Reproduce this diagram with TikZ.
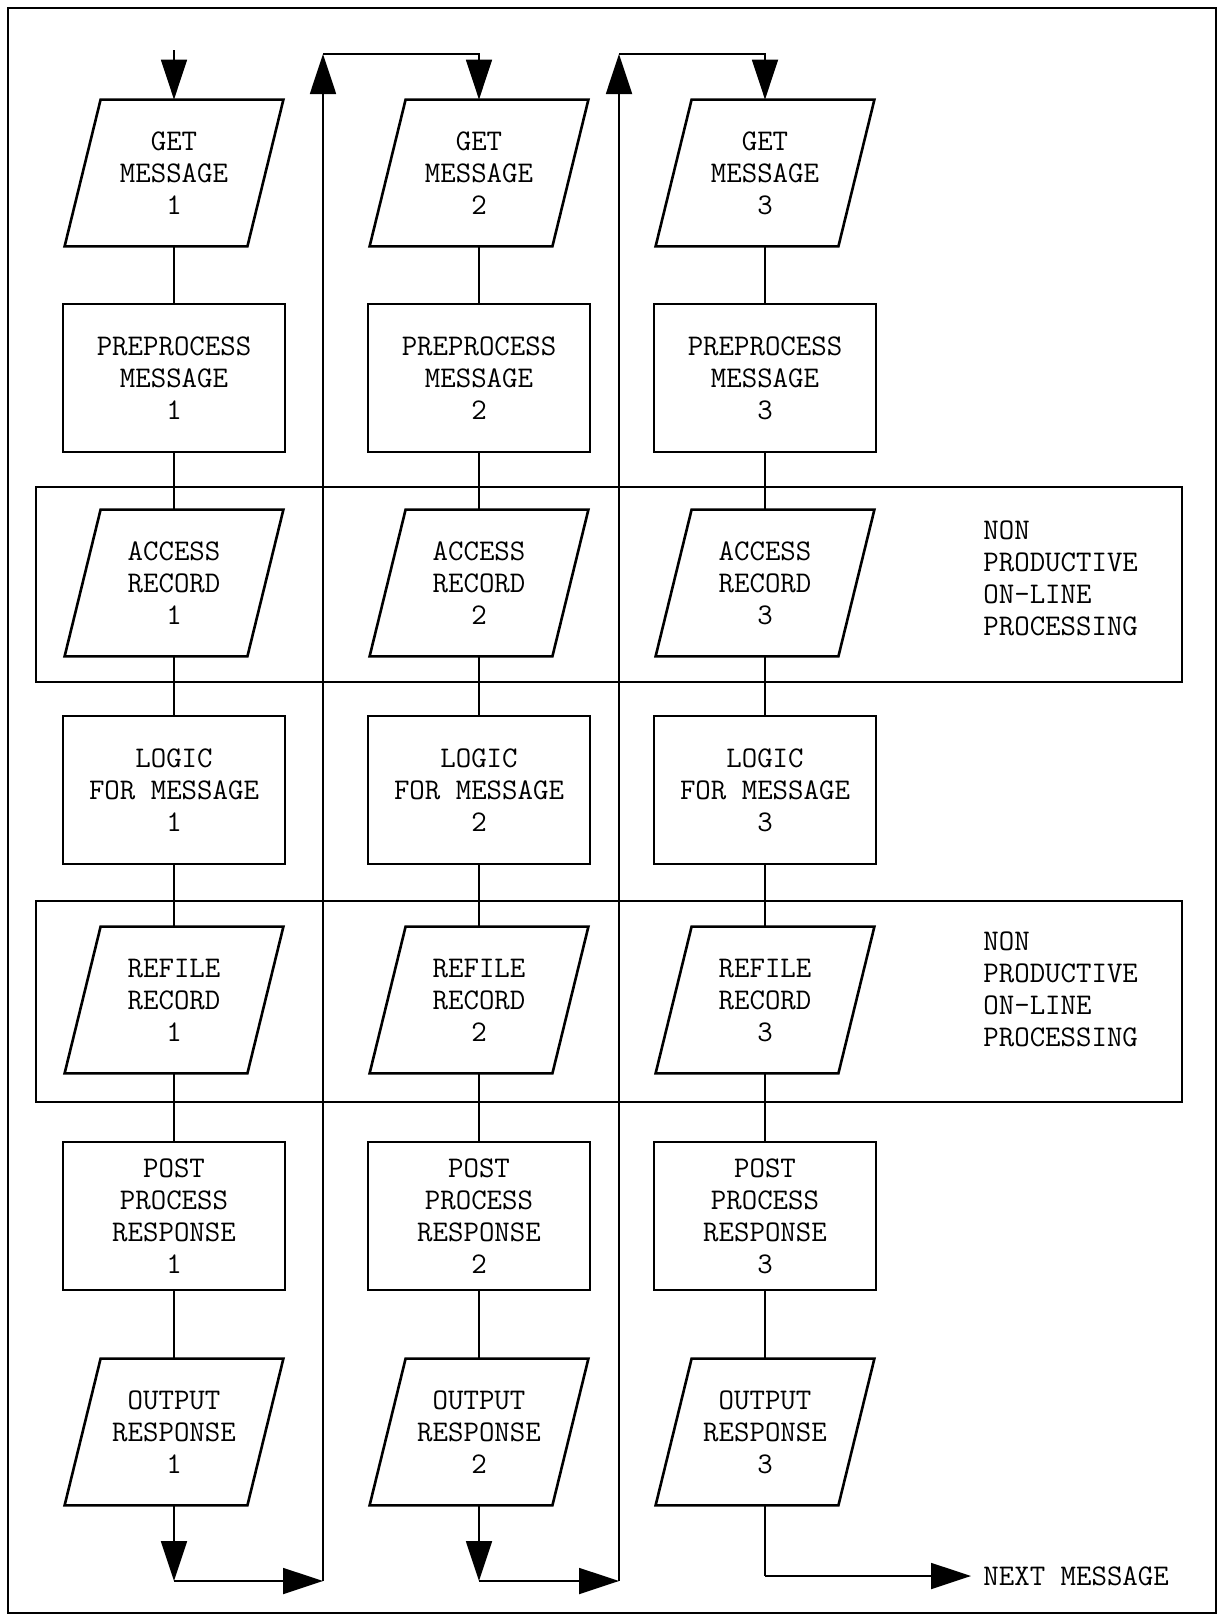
\documentclass[tikz,border=0pt]{standalone}
\usepackage{fontspec}
\usetikzlibrary{arrows.meta}
\newcommand\paral[1]{\draw[boxline] ([xshift=9pt]#1.north west) -- ([xshift=9pt]#1.north east) -- ([xshift=-9pt]#1.south east) -- ([xshift=-9pt]#1.south west) -- cycle;}
\begin{document}
\begin{tikzpicture}[x=0.5pt,y=-0.5pt,
  every node/.style={font=\ttfamily\fontsize{15}{16}\selectfont, align=center, inner sep=0pt},
  boxline/.style={line width=1.3pt, line join=miter},
  rectbox/.style={draw, boxline, minimum width=111pt, minimum height=74pt},
  parabox/.style={minimum width=91pt, minimum height=73pt},
  conn/.style={line width=0.9pt},
  arr/.style={conn,-{Triangle[length=20pt,width=13pt]}},
  group/.style={draw, line width=1.2pt, minimum width=573pt}
]
\useasboundingbox (0,0) rectangle (1221,1618);
\draw[line width=1pt] (8,8) rectangle (1216,1613);

% group boxes
\node[group, minimum height=97.5pt] (g1) at (609,584.5) {};
\node[group, minimum height=100.5pt] (g2) at (609,1001.5) {};
\node[anchor=west, align=left] (np1) at (983,578) {NON\\PRODUCTIVE\\ON-LINE\\PROCESSING};
\node[anchor=west, align=left] (np2) at (983,989) {NON\\PRODUCTIVE\\ON-LINE\\PROCESSING};

% columns
\foreach \c/\x in {1/174,2/479,3/765}{
  \node[parabox] (gm\c) at (\x,173) {GET\\MESSAGE\\\c};
  \node[rectbox] (pp\c) at (\x,378) {PREPROCESS\\MESSAGE\\\c};
  \node[parabox] (ar\c) at (\x,583) {ACCESS\\RECORD\\\c};
  \node[rectbox] (lg\c) at (\x,790) {LOGIC\\FOR MESSAGE\\\c};
  \node[parabox] (rr\c) at (\x,1000) {REFILE\\RECORD\\\c};
  \node[rectbox] (po\c) at (\x,1216) {POST\\PROCESS\\RESPONSE\\\c};
  \node[parabox] (or\c) at (\x,1432) {OUTPUT\\RESPONSE\\\c};
  \paral{gm\c}
  \paral{ar\c}
  \paral{rr\c}
  \paral{or\c}
  \draw[conn] (gm\c.south) -- (pp\c.north);
  \draw[conn] (pp\c.south) -- (ar\c.north);
  \draw[conn] (ar\c.south) -- (lg\c.north);
  \draw[conn] (lg\c.south) -- (rr\c.north);
  \draw[conn] (rr\c.south) -- (po\c.north);
  \draw[conn] (po\c.south) -- (or\c.north);
}

% entry arrow
\coordinate (start) at (174,50);
\draw[arr] (start) -- (gm1.north);

% loop-back lines
\coordinate (lt1) at (323,54);
\coordinate (lb1) at (323,1581);
\coordinate (lt2) at (619,54);
\coordinate (lb2) at (619,1581);
\coordinate (b1) at (174,1581);
\coordinate (b2) at (479,1581);
\coordinate (b3) at (765,1576);

\draw[arr] (or1.south) -- (b1);
\draw[arr] (b1) -- (lb1);
\draw[arr] (lb1) -- (lt1);
\draw[arr] (lt1) -- (lt1 -| gm2.north) -- (gm2.north);

\draw[arr] (or2.south) -- (b2);
\draw[arr] (b2) -- (lb2);
\draw[arr] (lb2) -- (lt2);
\draw[arr] (lt2) -- (lt2 -| gm3.north) -- (gm3.north);

\node[anchor=west] (nm) at (983,1576) {NEXT MESSAGE};
\draw[conn] (or3.south) -- (b3);
\draw[arr] (b3) -- ([xshift=-6pt]nm.west);
\end{tikzpicture}
\end{document}
